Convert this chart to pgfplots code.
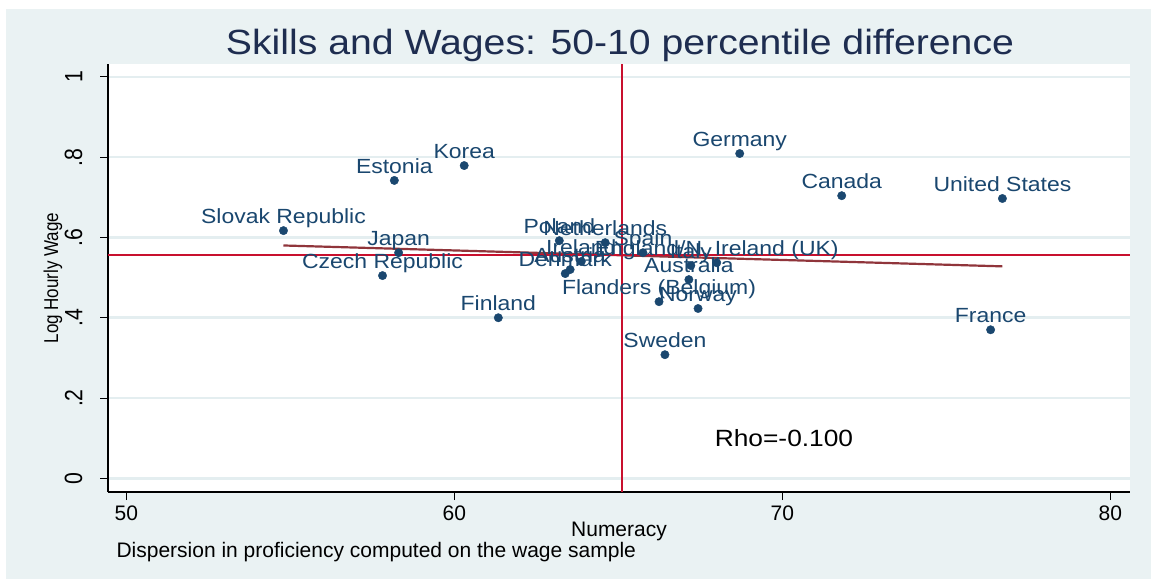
\documentclass[border=0pt]{standalone}
\usepackage{pgfplots}
\pgfplotsset{compat=1.18}
\usepackage{fontspec}
\setmainfont{Liberation Sans}
\newfontfamily\wideF[FakeStretch=1.12]{Liberation Sans}
\newfontfamily\narrowF[FakeStretch=0.85]{Liberation Sans}
\definecolor{bgc}{RGB}{234,242,243}
\definecolor{gridc}{RGB}{228,238,240}
\definecolor{navy}{RGB}{26,71,111}
\definecolor{ttl}{RGB}{30,45,80}
\definecolor{redl}{RGB}{200,16,46}
\definecolor{maroonc}{RGB}{144,53,59}
\pgfplotstableread[col sep=comma]{
x,y,label
54.79,0.617,Slovak Republic
58.17,0.742,Estonia
60.30,0.779,Korea
58.30,0.562,Japan
57.81,0.505,Czech Republic
61.34,0.400,Finland
63.20,0.592,Poland
64.60,0.587,Netherlands
65.75,0.562,Spain
63.87,0.540,Ireland
63.53,0.520,Austria
63.38,0.510,Denmark
68.00,0.537,England/N. Ireland (UK)
67.21,0.530,Italy
67.15,0.495,Australia
66.24,0.440,Flanders (Belgium)
67.43,0.423,Norway
66.42,0.308,Sweden
68.70,0.809,Germany
71.81,0.704,Canada
76.71,0.697,United States
76.35,0.370,France
}\datatable
\begin{document}
\begin{tikzpicture}
\useasboundingbox (0pt,0pt) rectangle (1151pt,579pt);
\fill[bgc] (6pt,0pt) rectangle (1151pt,570pt);
\fill[white] (108pt,87pt) rectangle (1130pt,515pt);
\node[text=ttl, font=\wideF\fontsize{35}{40}\selectfont] at (620pt,534pt) {Skills and Wages: 50-10 percentile difference};
\node[rotate=90, font=\narrowF\fontsize{20}{22}\selectfont] at (53pt,301pt) {Log Hourly Wage};
\begin{axis}[
  at={(108pt,87pt)}, anchor=south west, scale only axis,
  width=1022pt, height=428pt,
  xmin=49.44, xmax=80.6, ymin=-0.034, ymax=1.032,
  axis x line*=bottom, axis y line*=left,
  axis line style={black, line width=1.2pt, -},
  xtick={50,60,70,80},
  ytick={0,0.2,0.4,0.6,0.8,1},
  yticklabels={0,.2,.4,.6,.8,1},
  tick style={black, line width=1pt},
  tick align=outside, major tick length=8pt,
  ymajorgrids, grid style={gridc, line width=2.5pt},
  xticklabel style={font=\fontsize{21}{24}\selectfont, yshift=-2pt},
  yticklabel style={font=\narrowF\fontsize{25}{26}\selectfont, rotate=90, anchor=south, yshift=14pt},
  /pgf/number format/assume math mode=true,
  xlabel={Numeracy},
  xlabel style={font=\fontsize{21}{24}\selectfont, at={(axis description cs:0.5,0)}, anchor=center, yshift=-39pt},
  clip=false,
]
\addplot[only marks, mark=*, mark size=4.2pt, color=navy,
  nodes near coords, point meta=explicit symbolic,
  every node near coord/.append style={font=\wideF\fontsize{20.5}{24}\selectfont, text=navy, anchor=base, yshift=7pt, inner sep=0pt}]
  table[x=x, y=y, meta=label]{\datatable};
\addplot[maroonc, line width=2.2pt] coordinates {(54.79,0.580) (76.71,0.528)};
\addplot[redl, line width=2pt] coordinates {(65.11,-0.034) (65.11,1.032)};
\addplot[redl, line width=2pt] coordinates {(49.44,0.5555) (80.6,0.5555)};
\node[font=\wideF\fontsize{23.5}{26}\selectfont, anchor=base] at (axis cs:70.05,0.079) {Rho=-0.100};
\end{axis}
\node[anchor=base west, font=\fontsize{21}{24}\selectfont] at (113pt,22pt) {Dispersion in proficiency computed on the wage sample};
\end{tikzpicture}
\end{document}
